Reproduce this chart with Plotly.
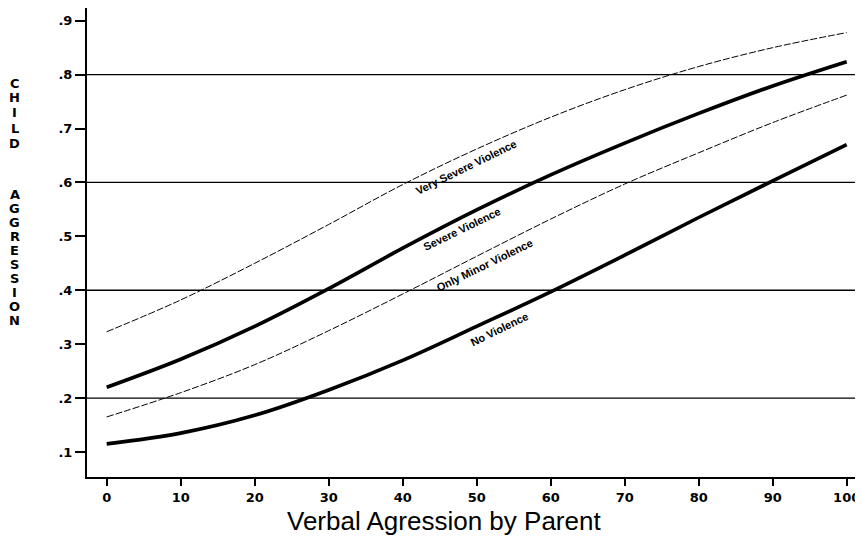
import plotly.graph_objects as go

# Data
verbal_aggression = [0, 10, 20, 30, 40, 50, 60, 70, 80, 90, 100]
very_severe = [0.323, 0.382, 0.450, 0.522, 0.596, 0.662, 0.721, 0.772, 0.815, 0.850, 0.878]
severe = [0.220, 0.272, 0.333, 0.403, 0.478, 0.549, 0.614, 0.673, 0.728, 0.779, 0.824]
only_minor = [0.165, 0.210, 0.262, 0.325, 0.393, 0.463, 0.532, 0.597, 0.655, 0.711, 0.762]
no_violence = [0.115, 0.135, 0.168, 0.215, 0.270, 0.333, 0.397, 0.465, 0.535, 0.603, 0.670]

series_names = ["Very Severe Violence", "Severe Violence", "Only Minor Violence", "No Violence"]
series_values = [very_severe, severe, only_minor, no_violence]
series_thick = [False, True, False, True]

# label anchor positions (data coords) for in-line labels
label_x = [48.6, 48.0, 51.1, 53.1]
label_y = [0.628, 0.513, 0.446, 0.328]

y_ticks = [0.1, 0.2, 0.3, 0.4, 0.5, 0.6, 0.7, 0.8, 0.9]
y_ticktext = [".1", ".2", ".3", ".4", ".5", ".6", ".7", ".8", ".9"]
x_ticks = [0, 10, 20, 30, 40, 50, 60, 70, 80, 90, 100]
grid_levels = [0.2, 0.4, 0.6, 0.8]

y_title_words = ["CHILD", "AGGRESSION"]

FONT = "Liberation Sans, Arial"
TICKFONT = "DejaVu Sans"

fig = go.Figure()

for name, vals, thick in zip(series_names, series_values, series_thick):
    fig.add_trace(go.Scatter(
        x=verbal_aggression, y=vals, mode="lines", name=name,
        line=dict(color="black", width=3.6 if thick else 1.0,
                  shape="spline", smoothing=1.0,
                  dash="solid" if thick else "7px,2px"),
        showlegend=False,
    ))

shapes = []
for g in grid_levels:
    shapes.append(dict(type="line", xref="paper", x0=0, x1=1, yref="y", y0=g, y1=g,
                       line=dict(color="black", width=1.3), layer="below"))

annotations = []
for name, lx, ly in zip(series_names, label_x, label_y):
    annotations.append(dict(x=lx, y=ly, xref="x", yref="y", text=name, showarrow=False,
                            textangle=-26, xanchor="center", yanchor="middle",
                            font=dict(family=FONT, size=11, color="black", weight="bold")))

# vertical stacked y-axis title (one letter per annotation, placed in paper space)
plot_top_px, plot_h_px = 8, 469
word_start_px = [83, 195]
word_step_px = [15, 13.9]
for word, start, step in zip(y_title_words, word_start_px, word_step_px):
    for i, ch in enumerate(word):
        py = start + i * step
        annotations.append(dict(x=-0.0934, y=(plot_top_px + plot_h_px - py) / plot_h_px,
                                xref="paper", yref="paper", xanchor="center", yanchor="middle",
                                text=ch, showarrow=False,
                                font=dict(family=TICKFONT, size=13, color="black", weight="bold")))

annotations.append(dict(x=0.463, y=-0.0935, xref="paper", yref="paper",
                        xanchor="center", yanchor="middle",
                        text="Verbal Agression by Parent", showarrow=False,
                        font=dict(family=FONT, size=26, color="black")))

# the page adds an 8px body margin, so the figure is sized to fit inside the window
fig.update_layout(
    width=855, height=531,
    margin=dict(l=79, r=5, t=0, b=62),
    paper_bgcolor="white", plot_bgcolor="white",
    shapes=shapes, annotations=annotations,
    font=dict(family=FONT, color="black"),
    xaxis=dict(
        range=[-2.66, 101.53], tickvals=x_ticks, ticks="outside", ticklen=7, tickwidth=1.5,
        tickcolor="black", showline=True, linecolor="black", linewidth=2, showgrid=False,
        zeroline=False, automargin=False,
        tickfont=dict(family=TICKFONT, size=13, color="black", weight="bold"),
    ),
    yaxis=dict(
        range=[0.0536, 0.9236], tickvals=y_ticks, ticktext=y_ticktext, ticks="outside",
        ticklen=10, tickwidth=1.5, tickcolor="black", showline=True, linecolor="black",
        linewidth=2, showgrid=False, zeroline=False, automargin=False, ticklabelstandoff=0,
        tickfont=dict(family=TICKFONT, size=13, color="black", weight="bold"),
    ),
)

fig.write_html("out.html")
